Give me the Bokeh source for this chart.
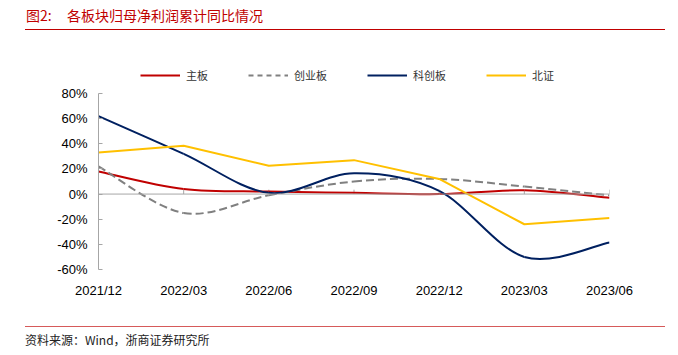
from bokeh.plotting import figure
from bokeh.models import (Span, Legend, LegendItem, FixedTicker, NumeralTickFormatter,
                          Range1d, ColumnDataSource, Div)
from bokeh.layouts import column
from bokeh.embed import file_html
from bokeh.resources import INLINE

categories = ["2021/12", "2022/03", "2022/06", "2022/09", "2022/12", "2023/03", "2023/06"]
main_board = [0.18, 0.04, 0.02, 0.01, 0.00, 0.03, -0.03]
chinext = [0.22, -0.15, -0.01, 0.10, 0.12, 0.06, -0.01]
star = [0.62, 0.32, 0.01, 0.165, 0.025, -0.50, -0.385]
bse = [0.33, 0.385, 0.225, 0.27, 0.12, -0.24, -0.19]
y_ticks = [-0.6, -0.4, -0.2, 0.0, 0.2, 0.4, 0.6, 0.8]

names = ["主板", "创业板", "科创板", "北证"]
colors = ["#C00000", "#808080", "#002060", "#FFC000"]
dashes = ["solid", "8 4", "solid", "solid"]
smooth = [True, True, True, False]
series = [main_board, chinext, star, bse]

title_label = "图2:"
title_text = "各板块归母净利润累计同比情况"
footer_text = "资料来源：Wind，浙商证券研究所"

W = 678
TOP_H, FIG_H, BOT_H = 33, 289, 33
FL, FR = 98, 609           # frame left/right (canvas px)
Y80, Y_60 = 93, 269        # canvas px of 80% and -60%
frame_top = TOP_H
frame_h = Y_60 - frame_top
ppu = (Y_60 - Y80) / 1.4
y_end = 0.8 + (Y80 - frame_top) / ppu

p = figure(width=W, height=FIG_H, output_backend="svg", toolbar_location=None,
           min_border_left=FL, min_border_right=W - FR, min_border_top=0,
           min_border_bottom=FIG_H - frame_h, outline_line_color=None,
           x_range=Range1d(0, len(categories) - 1), y_range=Range1d(-0.6, y_end))
p.grid.visible = False
p.background_fill_color = "white"
p.border_fill_color = "white"

# y axis
ya = p.yaxis[0]
ya.ticker = FixedTicker(ticks=y_ticks)
ya.bounds = (-0.6, 0.8)
ya.formatter = NumeralTickFormatter(format="0%")
ya.axis_line_color = "#A6A6A6"
ya.major_tick_line_color = "#A6A6A6"
ya.major_tick_in = 4
ya.major_tick_out = 0
ya.minor_tick_line_color = None
ya.major_label_standoff = 11
ya.major_label_text_font = "Liberation Sans"
ya.major_label_text_font_size = "13px"
ya.major_label_text_color = "black"

# x axis (labels at bottom)
xa = p.xaxis[0]
xa.ticker = FixedTicker(ticks=list(range(len(categories))))
xa.major_label_overrides = {i: c for i, c in enumerate(categories)}
xa.axis_line_color = None
xa.major_tick_line_color = None
xa.minor_tick_line_color = None
xa.major_label_standoff = 7
xa.major_label_text_font = "Liberation Sans"
xa.major_label_text_font_size = "13px"
xa.major_label_text_color = "black"

# zero line with tick marks
p.add_layout(Span(location=0, dimension="width", line_color="#A6A6A6", line_width=1))
xs = list(range(len(categories)))
p.segment(x0=xs, y0=[0] * len(xs), x1=xs, y1=[0.035] * len(xs), line_color="#A6A6A6", line_width=1)


def bez_src(vals):
    n = len(vals)
    x = list(range(n))
    d = dict(x0=[], y0=[], x1=[], y1=[], cx0=[], cy0=[], cx1=[], cy1=[])
    for i in range(n - 1):
        im = max(i - 1, 0)
        ip2 = min(i + 2, n - 1)
        d["x0"].append(x[i]); d["y0"].append(vals[i])
        d["x1"].append(x[i + 1]); d["y1"].append(vals[i + 1])
        d["cx0"].append(x[i] + (x[i + 1] - x[im]) / 6.0)
        d["cy0"].append(vals[i] + (vals[i + 1] - vals[im]) / 6.0)
        d["cx1"].append(x[i + 1] - (x[ip2] - x[i]) / 6.0)
        d["cy1"].append(vals[i + 1] - (vals[ip2] - vals[i]) / 6.0)
    return ColumnDataSource(d)


items = []
for name, vals, col, dash, sm in zip(names, series, colors, dashes, smooth):
    if sm:
        p.bezier(x0="x0", y0="y0", x1="x1", y1="y1", cx0="cx0", cy0="cy0", cx1="cx1", cy1="cy1",
                 source=bez_src(vals), line_color=col, line_width=2, line_dash=dash)
    else:
        p.line(xs, vals, line_color=col, line_width=2, line_dash=dash)
    # off-range proxy line used only for the legend swatch
    proxy = p.line(x=[-10, -9], y=[-10, -10], line_color=col, line_width=2,
                   line_dash=("5 4" if dash != "solid" else dash))
    items.append(LegendItem(label=name, renderers=[proxy]))

legend_center_y = 75
legend = Legend(items=items, orientation="horizontal",
                location=(140 - FL, Y_60 - (legend_center_y + 10)),
                glyph_width=40, glyph_height=20, label_height=20, label_standoff=6,
                spacing=40, padding=0, margin=0, border_line_color=None,
                background_fill_alpha=0, label_text_font="Noto Sans CJK SC",
                label_text_font_size="11px", label_text_color="#333333")
p.add_layout(legend, "center")

title_div = Div(width=W, height=TOP_H, margin=0, text=(
    '<div style="position:relative;width:678px;height:33px;overflow:hidden;">'
    '<div style="position:absolute;left:26px;top:5px;font-family:\'Noto Sans CJK SC\';'
    'font-size:14px;line-height:20px;color:#C00000;white-space:pre;">' + title_label + '</div>'
    '<div style="position:absolute;left:67px;top:5px;font-family:\'Noto Sans CJK SC\';'
    'font-size:14px;line-height:20px;color:#C00000;white-space:pre;">' + title_text + '</div>'
    '<div style="position:absolute;left:25px;top:29px;width:640px;height:1px;background:#C00000;"></div>'
    '</div>'))

footer_div = Div(width=W, height=BOT_H, margin=0, text=(
    '<div style="position:relative;width:678px;height:33px;overflow:hidden;">'
    '<div style="position:absolute;left:25px;top:4px;width:640px;height:1px;background:#D65A5A;"></div>'
    '<div style="position:absolute;left:25px;top:9px;font-family:\'Noto Sans CJK SC\';'
    'font-size:12px;line-height:18px;color:#222222;white-space:pre;">' + footer_text + '</div>'
    '</div>'))

layout = column(title_div, p, footer_div, spacing=0, margin=0)
open("out.html", "w").write(file_html(layout, INLINE))
